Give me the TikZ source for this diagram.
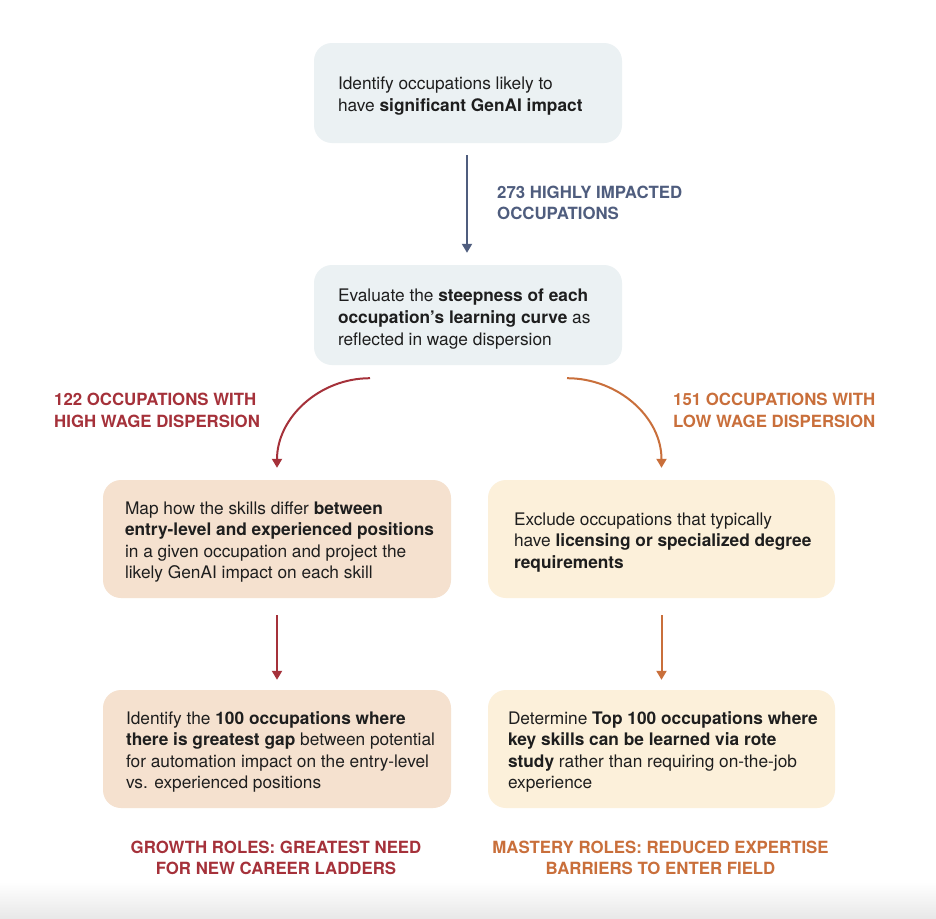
\documentclass[tikz,border=0pt]{standalone}
\usepackage{fontspec}
\setmainfont{TeX Gyre Heros}
\usetikzlibrary{arrows.meta}
\definecolor{boxblue}{HTML}{EBF1F3}
\definecolor{boxpeach}{HTML}{F5E1CF}
\definecolor{boxcream}{HTML}{FCF0DA}
\definecolor{navyc}{HTML}{4F5D7E}
\definecolor{redc}{HTML}{A5313A}
\definecolor{orangec}{HTML}{C96F3B}
\definecolor{ink}{HTML}{1E1E1E}
\tikzset{
  card/.style={rounded corners=18pt, inner sep=0pt, draw=none},
  topcard/.style={card, fill=boxblue, minimum width=308pt, minimum height=100pt},
  peachcard/.style={card, fill=boxpeach, minimum width=348pt, minimum height=118pt},
  creamcard/.style={card, fill=boxcream, minimum width=347pt, minimum height=118pt},
  body/.style={align=left, anchor=west, inner sep=0pt, text=ink, font=\fontsize{17.3}{21.6}\selectfont},
  lab/.style={inner sep=0pt, font=\bfseries\fontsize{16.8}{21.5}\selectfont},
  arr/.style={line width=2pt, -{Triangle[width=10pt,length=9pt]}},
}
\begin{document}
\begin{tikzpicture}[x=1pt,y=-1pt]
\useasboundingbox (0,0) rectangle (936,918);
\fill[white] (0,0) rectangle (936,918);
\shade[top color=white, bottom color=black!9] (0,882) rectangle (936,918);

% boxes
\node[topcard] (b1) at (468,93) {};
\node[topcard] (b2) at (468,315) {};
\node[peachcard] (b3L) at (277,539) {};
\node[creamcard] (b3R) at (661.5,539) {};
\node[peachcard] (b4L) at (277,749) {};
\node[creamcard] (b4R) at (661.5,749) {};

% box texts
\node[body] (t1) at ([xshift=24pt,yshift=-3pt]b1.west) {Identify occupations likely to\\have \textbf{significant GenAI impact}};
\node[body] (t2) at ([xshift=24pt,yshift=-4pt]b2.west) {Evaluate the \textbf{steepness of each}\\\textbf{occupation’s learning curve} as\\reflected in wage dispersion};
\node[body] (t3L) at ([xshift=22pt,yshift=-3pt]b3L.west) {Map how the skills differ \textbf{between}\\\textbf{entry-level and experienced positions}\\in a given occupation and project the\\likely GenAI impact on each skill};
\node[body] (t3R) at ([xshift=26pt,yshift=-3.5pt]b3R.west) {Exclude occupations that typically\\have \textbf{licensing or specialized degree}\\\textbf{requirements}};
\node[body] (t4L) at ([xshift=23pt,yshift=-3pt]b4L.west) {Identify the \textbf{100 occupations where}\\\textbf{there is greatest gap} between potential\\for automation impact on the entry-level\\vs. experienced positions};
\node[body] (t4R) at ([xshift=20pt,yshift=-3pt]b4R.west) {Determine \textbf{Top 100 occupations where}\\\textbf{key skills can be learned via rote}\\\textbf{study} rather than requiring on-the-job\\experience};

% labels
\node[lab, text=navyc, align=left, anchor=west] (l1) at (497,203) {273 HIGHLY IMPACTED\\OCCUPATIONS};
\node[lab, text=redc, align=left, anchor=west] (l2) at (54,410.5) {122 OCCUPATIONS WITH\\HIGH WAGE DISPERSION};
\node[lab, text=orangec, align=left, anchor=west] (l3) at (673,410.5) {151 OCCUPATIONS WITH\\LOW WAGE DISPERSION};
\node[lab, text=redc, align=center] (l4) at (276,858) {GROWTH ROLES: GREATEST NEED\\FOR NEW CAREER LADDERS};
\node[lab, text=orangec, align=center] (l5) at (660.5,858) {MASTERY ROLES: REDUCED EXPERTISE\\BARRIERS TO ENTER FIELD};

% connectors
\draw[arr, navyc] ([xshift=-1pt,yshift=-12pt]b1.south) -- ([xshift=-1pt,yshift=12pt]b2.north);
\draw[arr, redc] ([xshift=-98pt,yshift=-13pt]b2.south) to[out=180,in=90] ([yshift=12pt]b3L.north);
\draw[arr, orangec] ([xshift=99pt,yshift=-13pt]b2.south) to[out=0,in=90] ([yshift=12pt]b3R.north);
\draw[arr, redc] ([yshift=-17pt]b3L.south) -- ([yshift=10pt]b4L.north);
\draw[arr, orangec] ([yshift=-17pt]b3R.south) -- ([yshift=10pt]b4R.north);
\end{tikzpicture}
\end{document}
